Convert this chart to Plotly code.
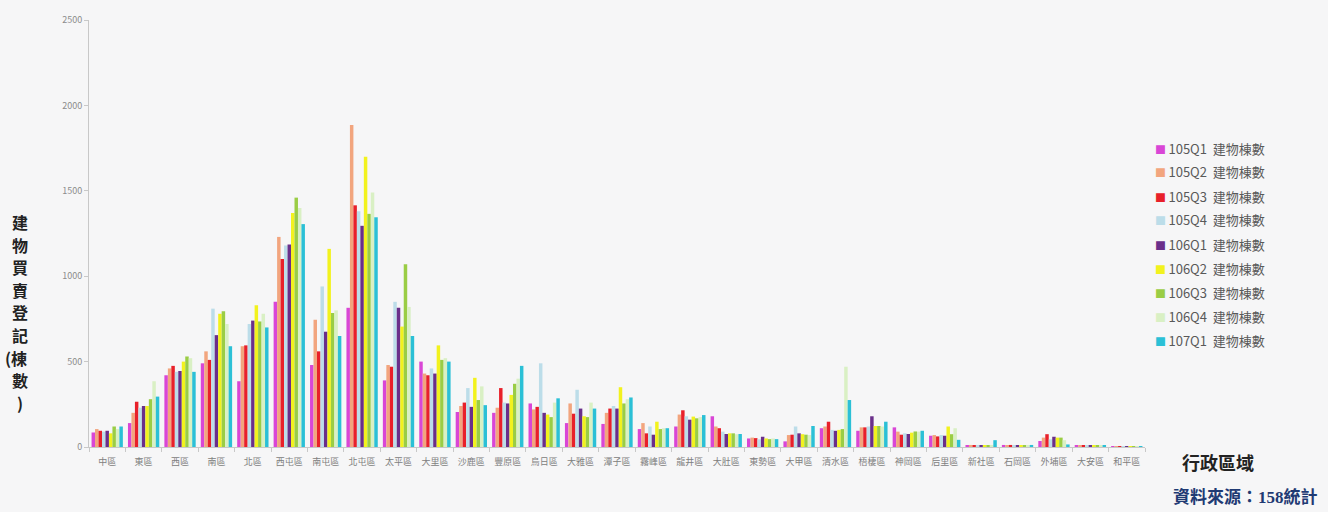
import plotly.graph_objects as go

# Taichung districts
districts = ["中區", "東區", "西區", "南區", "北區", "西屯區", "南屯區", "北屯區", "太平區", "大里區",
             "沙鹿區", "豐原區", "烏日區", "大雅區", "潭子區", "霧峰區", "龍井區", "大肚區", "東勢區", "大甲區",
             "清水區", "梧棲區", "神岡區", "后里區", "新社區", "石岡區", "外埔區", "大安區", "和平區"]

quarters = ["105Q1", "105Q2", "105Q3", "105Q4", "106Q1", "106Q2", "106Q3", "106Q4", "107Q1"]

q105_1 = [85, 140, 420, 490, 385, 850, 480, 815, 390, 500, 205, 200, 255, 140, 135, 105, 120, 180, 50, 33, 110, 95, 115, 66, 10, 12, 35, 8, 5]
q105_2 = [105, 200, 460, 560, 590, 1230, 745, 1885, 480, 430, 240, 230, 220, 255, 200, 140, 190, 120, 55, 70, 120, 115, 90, 70, 12, 10, 55, 10, 5]
q105_3 = [95, 265, 475, 510, 595, 1100, 560, 1415, 470, 420, 260, 345, 235, 195, 225, 80, 215, 110, 52, 72, 148, 115, 72, 62, 10, 12, 75, 8, 5]
q105_4 = [90, 230, 440, 810, 720, 1180, 940, 1380, 850, 460, 345, 260, 490, 335, 240, 120, 180, 90, 45, 120, 100, 120, 80, 70, 12, 10, 45, 10, 5]
q106_1 = [95, 240, 445, 655, 740, 1185, 675, 1295, 815, 430, 235, 255, 200, 225, 225, 72, 160, 76, 60, 80, 95, 180, 76, 66, 10, 10, 60, 8, 5]
q106_2 = [80, 240, 500, 780, 830, 1370, 1160, 1700, 705, 595, 405, 305, 190, 180, 350, 148, 178, 80, 50, 75, 100, 123, 84, 120, 10, 10, 55, 8, 5]
q106_3 = [120, 280, 530, 795, 735, 1460, 785, 1365, 1070, 510, 275, 370, 175, 175, 255, 105, 168, 80, 46, 72, 105, 123, 91, 75, 10, 10, 55, 8, 5]
q106_4 = [105, 385, 520, 720, 780, 1400, 800, 1490, 820, 520, 355, 400, 260, 260, 280, 110, 175, 75, 50, 70, 470, 120, 90, 110, 12, 12, 40, 8, 5]
q107_1 = [120, 295, 440, 590, 700, 1305, 650, 1345, 650, 500, 245, 475, 285, 225, 290, 110, 187, 76, 46, 123, 275, 148, 95, 42, 40, 12, 15, 8, 5]

series = [q105_1, q105_2, q105_3, q105_4, q106_1, q106_2, q106_3, q106_4, q107_1]
colors = ["#d946d6", "#f2a57e", "#e8202a", "#bcdde9", "#6a2f8a",
          "#f2f21e", "#9acd45", "#d9f0c4", "#2bc0d6"]
legend_suffix = "建物棟數"

W, H = 1328, 512
ML, MR, MT, MB = 89, 183, 20, 65
PW, PH = W - ML - MR, H - MT - MB


def px_x(x):
    return (x - ML) / PW


def px_y(y):
    return (H - MB - y) / PH


fig = go.Figure()

for name, vals, col in zip(quarters, series, colors):
    fig.add_trace(go.Bar(
        x=districts, y=vals, name=name + " " + legend_suffix,
        marker=dict(color=col, line=dict(width=0)),
        showlegend=False,
    ))

fig.update_layout(
    width=W, height=H,
    margin=dict(l=ML, r=MR, t=MT, b=MB),
    paper_bgcolor="#f6f6f7",
    plot_bgcolor="#f6f6f7",
    barmode="group",
    bargap=0.14,
    bargroupgap=0,
    showlegend=False,
    font=dict(family="Noto Sans CJK TC, sans-serif", color="#7f7f7f"),
    xaxis=dict(
        type="category",
        showgrid=False,
        showline=True, linecolor="#c8c8c8", linewidth=1,
        ticks="outside", tickson="boundaries", ticklen=4, tickcolor="#c8c8c8",
        tickfont=dict(size=9, color="#808080"),
        tickangle=0, ticklabelstandoff=6,
    ),
    yaxis=dict(
        range=[0, 2500], dtick=500,
        showgrid=False, zeroline=False,
        showline=True, linecolor="#c8c8c8", linewidth=1,
        ticks="outside", ticklen=4, tickcolor="#c8c8c8",
        tickfont=dict(size=9, color="#8c8c8c"),
    ),
)

# legend: coloured square followed by the series name
for i, (name, col) in enumerate(zip(quarters, colors)):
    fig.add_annotation(
        text='<span style="color:%s;font-size:11px">■ </span>%s  %s' % (col, name, legend_suffix),
        xref="paper", yref="paper", x=px_x(1153), y=px_y(148 + 24 * i),
        xanchor="left", yanchor="middle", showarrow=False,
        font=dict(size=13, color="#595959", family="Noto Sans CJK TC, sans-serif"),
    )

# vertical y-axis title, one glyph per line
ytitle_chars = ["建", "物", "買", "賣", "登", "記", "(棟", "數", ")"]
for i, ch in enumerate(ytitle_chars):
    fig.add_annotation(
        text="<b>" + ch + "</b>", xref="paper", yref="paper",
        x=px_x(20), y=px_y(222 + 22.6 * i),
        xanchor="center" if not ch.startswith("(") else "right",
        xshift=0 if not ch.startswith("(") else 9,
        yanchor="middle", showarrow=False,
        font=dict(size=16, color="#222222", family="Noto Sans CJK TC, sans-serif"),
    )

fig.add_annotation(
    text="<b>行政區域</b>", xref="paper", yref="paper",
    x=px_x(1180), y=px_y(462), xanchor="left", yanchor="middle", showarrow=False,
    font=dict(size=18, color="#222222", family="Noto Sans CJK TC, sans-serif"),
)

fig.add_annotation(
    text="<b>資料來源：158統計</b>", xref="paper", yref="paper",
    x=px_x(1171), y=px_y(497), xanchor="left", yanchor="middle", showarrow=False,
    font=dict(size=17, color="#1f3a73", family="Liberation Serif, Noto Sans CJK TC, serif"),
)

fig.write_html("out.html")
